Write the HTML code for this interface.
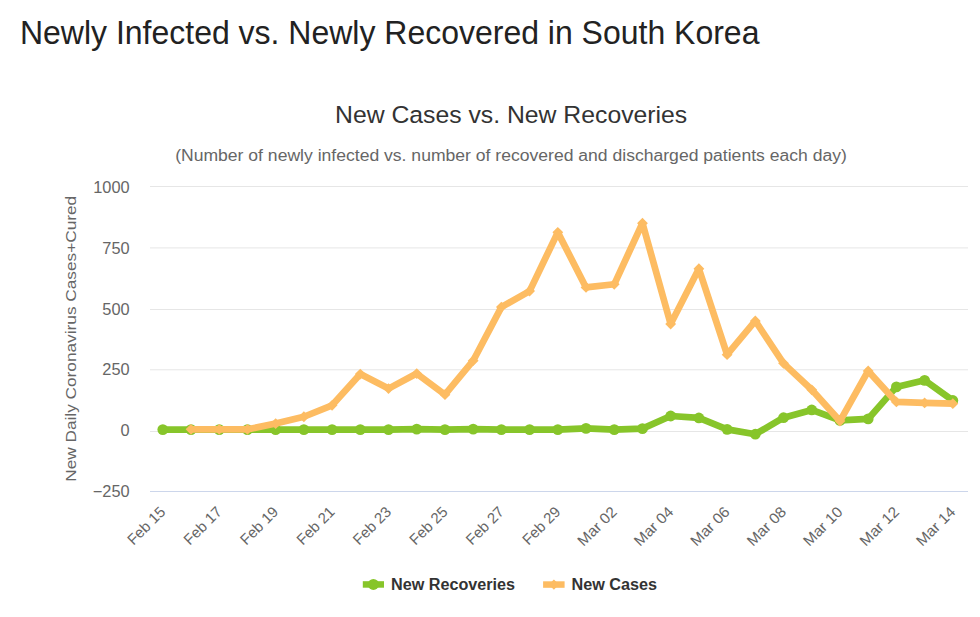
<!DOCTYPE html>
<html><head><meta charset="utf-8">
<style>
html,body{margin:0;padding:0;background:#fff;width:980px;height:617px;overflow:hidden}
svg{display:block;position:absolute;left:0;top:0}
text{font-family:"Liberation Sans",sans-serif}
.mt{font-size:32px;fill:#222}
.ct{font-size:24.5px;fill:#333}
.st{font-size:15.6px;fill:#666}
.yl{font-size:15.9px;fill:#666}
.yt{font-size:15px;fill:#666}
.xl{font-size:15px;fill:#666}
.lg{font-size:16px;font-weight:bold;fill:#333}
</style></head>
<body>
<svg width="980" height="617" viewBox="0 0 980 617">
<line x1="150" y1="186.50" x2="968" y2="186.50" stroke="#e6e6e6" stroke-width="1"/>
<line x1="150" y1="247.90" x2="968" y2="247.90" stroke="#e6e6e6" stroke-width="1"/>
<line x1="150" y1="309.50" x2="968" y2="309.50" stroke="#e6e6e6" stroke-width="1"/>
<line x1="150" y1="369.80" x2="968" y2="369.80" stroke="#e6e6e6" stroke-width="1"/>
<line x1="150" y1="431.50" x2="968" y2="431.50" stroke="#e6e6e6" stroke-width="1"/>
<line x1="150" y1="491.5" x2="968" y2="491.5" stroke="#ccd6eb" stroke-width="1"/>
<text x="129.6" y="192.90" text-anchor="end" class="yl" textLength="36.38" lengthAdjust="spacingAndGlyphs">1000</text>
<text x="129.6" y="253.75" text-anchor="end" class="yl" textLength="27.29" lengthAdjust="spacingAndGlyphs">750</text>
<text x="129.6" y="314.60" text-anchor="end" class="yl" textLength="27.29" lengthAdjust="spacingAndGlyphs">500</text>
<text x="129.6" y="375.45" text-anchor="end" class="yl" textLength="27.29" lengthAdjust="spacingAndGlyphs">250</text>
<text x="129.6" y="436.30" text-anchor="end" class="yl" textLength="9.10" lengthAdjust="spacingAndGlyphs">0</text>
<text x="129.6" y="497.15" text-anchor="end" class="yl" textLength="36.84" lengthAdjust="spacingAndGlyphs">−250</text>
<text class="yt" transform="translate(76.0 338.8) rotate(-90)" text-anchor="middle" textLength="286" lengthAdjust="spacingAndGlyphs">New Daily Coronavirus Cases+Cured</text>
<text class="xl" text-anchor="end" transform="translate(166.40 512.8) rotate(-45)">Feb 15</text>
<text class="xl" text-anchor="end" transform="translate(222.83 512.8) rotate(-45)">Feb 17</text>
<text class="xl" text-anchor="end" transform="translate(279.26 512.8) rotate(-45)">Feb 19</text>
<text class="xl" text-anchor="end" transform="translate(335.69 512.8) rotate(-45)">Feb 21</text>
<text class="xl" text-anchor="end" transform="translate(392.12 512.8) rotate(-45)">Feb 23</text>
<text class="xl" text-anchor="end" transform="translate(448.55 512.8) rotate(-45)">Feb 25</text>
<text class="xl" text-anchor="end" transform="translate(504.98 512.8) rotate(-45)">Feb 27</text>
<text class="xl" text-anchor="end" transform="translate(561.41 512.8) rotate(-45)">Feb 29</text>
<text class="xl" text-anchor="end" textLength="48.4" lengthAdjust="spacingAndGlyphs" transform="translate(617.84 512.8) rotate(-45)">Mar 02</text>
<text class="xl" text-anchor="end" textLength="48.4" lengthAdjust="spacingAndGlyphs" transform="translate(674.27 512.8) rotate(-45)">Mar 04</text>
<text class="xl" text-anchor="end" textLength="48.4" lengthAdjust="spacingAndGlyphs" transform="translate(730.70 512.8) rotate(-45)">Mar 06</text>
<text class="xl" text-anchor="end" textLength="48.4" lengthAdjust="spacingAndGlyphs" transform="translate(787.13 512.8) rotate(-45)">Mar 08</text>
<text class="xl" text-anchor="end" textLength="48.4" lengthAdjust="spacingAndGlyphs" transform="translate(843.56 512.8) rotate(-45)">Mar 10</text>
<text class="xl" text-anchor="end" textLength="48.4" lengthAdjust="spacingAndGlyphs" transform="translate(899.99 512.8) rotate(-45)">Mar 12</text>
<text class="xl" text-anchor="end" textLength="48.4" lengthAdjust="spacingAndGlyphs" transform="translate(956.42 512.8) rotate(-45)">Mar 14</text>
<path d="M162.80 429.60 L191.02 429.60 L219.23 429.60 L247.44 429.60 L275.66 429.60 L303.88 429.60 L332.09 429.60 L360.31 429.60 L388.52 429.60 L416.74 429.11 L444.95 429.60 L473.17 429.11 L501.38 429.60 L529.60 429.60 L557.81 429.60 L586.03 428.39 L614.24 429.60 L642.45 428.63 L670.67 416.01 L698.88 417.96 L727.10 429.36 L755.32 434.21 L783.53 417.71 L811.75 409.95 L839.96 420.38 L868.17 418.93 L896.39 386.90 L924.61 380.35 L952.82 400.49" fill="none" stroke="#87c52a" stroke-width="6.7" stroke-linejoin="round" stroke-linecap="round"/>
<circle cx="162.80" cy="429.60" r="5.4" fill="#87c52a"/>
<circle cx="191.02" cy="429.60" r="5.4" fill="#87c52a"/>
<circle cx="219.23" cy="429.60" r="5.4" fill="#87c52a"/>
<circle cx="247.44" cy="429.60" r="5.4" fill="#87c52a"/>
<circle cx="275.66" cy="429.60" r="5.4" fill="#87c52a"/>
<circle cx="303.88" cy="429.60" r="5.4" fill="#87c52a"/>
<circle cx="332.09" cy="429.60" r="5.4" fill="#87c52a"/>
<circle cx="360.31" cy="429.60" r="5.4" fill="#87c52a"/>
<circle cx="388.52" cy="429.60" r="5.4" fill="#87c52a"/>
<circle cx="416.74" cy="429.11" r="5.4" fill="#87c52a"/>
<circle cx="444.95" cy="429.60" r="5.4" fill="#87c52a"/>
<circle cx="473.17" cy="429.11" r="5.4" fill="#87c52a"/>
<circle cx="501.38" cy="429.60" r="5.4" fill="#87c52a"/>
<circle cx="529.60" cy="429.60" r="5.4" fill="#87c52a"/>
<circle cx="557.81" cy="429.60" r="5.4" fill="#87c52a"/>
<circle cx="586.03" cy="428.39" r="5.4" fill="#87c52a"/>
<circle cx="614.24" cy="429.60" r="5.4" fill="#87c52a"/>
<circle cx="642.45" cy="428.63" r="5.4" fill="#87c52a"/>
<circle cx="670.67" cy="416.01" r="5.4" fill="#87c52a"/>
<circle cx="698.88" cy="417.96" r="5.4" fill="#87c52a"/>
<circle cx="727.10" cy="429.36" r="5.4" fill="#87c52a"/>
<circle cx="755.32" cy="434.21" r="5.4" fill="#87c52a"/>
<circle cx="783.53" cy="417.71" r="5.4" fill="#87c52a"/>
<circle cx="811.75" cy="409.95" r="5.4" fill="#87c52a"/>
<circle cx="839.96" cy="420.38" r="5.4" fill="#87c52a"/>
<circle cx="868.17" cy="418.93" r="5.4" fill="#87c52a"/>
<circle cx="896.39" cy="386.90" r="5.4" fill="#87c52a"/>
<circle cx="924.61" cy="380.35" r="5.4" fill="#87c52a"/>
<circle cx="952.82" cy="400.49" r="5.4" fill="#87c52a"/>
<path d="M191.02 429.36 L219.23 429.36 L247.44 429.36 L275.66 423.54 L303.88 416.74 L332.09 405.34 L360.31 374.04 L388.52 388.60 L416.74 373.56 L444.95 394.67 L473.17 360.70 L501.38 307.09 L529.60 291.08 L557.81 232.37 L586.03 287.44 L614.24 284.28 L642.45 223.15 L670.67 324.07 L698.88 268.76 L727.10 354.64 L755.32 320.92 L783.53 363.37 L811.75 389.81 L839.96 421.11 L868.17 370.89 L896.39 401.94 L924.61 402.91 L952.82 403.64" fill="none" stroke="#fdbc62" stroke-width="6.7" stroke-linejoin="round" stroke-linecap="round"/>
<path d="M191.02 423.96 L196.42 429.36 L191.02 434.76 L185.62 429.36Z" fill="#fdbc62"/>
<path d="M219.23 423.96 L224.63 429.36 L219.23 434.76 L213.83 429.36Z" fill="#fdbc62"/>
<path d="M247.44 423.96 L252.84 429.36 L247.44 434.76 L242.04 429.36Z" fill="#fdbc62"/>
<path d="M275.66 418.14 L281.06 423.54 L275.66 428.94 L270.26 423.54Z" fill="#fdbc62"/>
<path d="M303.88 411.34 L309.27 416.74 L303.88 422.14 L298.48 416.74Z" fill="#fdbc62"/>
<path d="M332.09 399.94 L337.49 405.34 L332.09 410.74 L326.69 405.34Z" fill="#fdbc62"/>
<path d="M360.31 368.64 L365.70 374.04 L360.31 379.44 L354.91 374.04Z" fill="#fdbc62"/>
<path d="M388.52 383.20 L393.92 388.60 L388.52 394.00 L383.12 388.60Z" fill="#fdbc62"/>
<path d="M416.74 368.16 L422.13 373.56 L416.74 378.96 L411.34 373.56Z" fill="#fdbc62"/>
<path d="M444.95 389.27 L450.35 394.67 L444.95 400.07 L439.55 394.67Z" fill="#fdbc62"/>
<path d="M473.17 355.30 L478.56 360.70 L473.17 366.10 L467.77 360.70Z" fill="#fdbc62"/>
<path d="M501.38 301.69 L506.78 307.09 L501.38 312.49 L495.98 307.09Z" fill="#fdbc62"/>
<path d="M529.60 285.68 L535.00 291.08 L529.60 296.48 L524.20 291.08Z" fill="#fdbc62"/>
<path d="M557.81 226.97 L563.21 232.37 L557.81 237.77 L552.41 232.37Z" fill="#fdbc62"/>
<path d="M586.03 282.04 L591.43 287.44 L586.03 292.84 L580.63 287.44Z" fill="#fdbc62"/>
<path d="M614.24 278.88 L619.64 284.28 L614.24 289.68 L608.84 284.28Z" fill="#fdbc62"/>
<path d="M642.45 217.75 L647.85 223.15 L642.45 228.55 L637.05 223.15Z" fill="#fdbc62"/>
<path d="M670.67 318.67 L676.07 324.07 L670.67 329.47 L665.27 324.07Z" fill="#fdbc62"/>
<path d="M698.88 263.36 L704.28 268.76 L698.88 274.16 L693.49 268.76Z" fill="#fdbc62"/>
<path d="M727.10 349.24 L732.50 354.64 L727.10 360.04 L721.70 354.64Z" fill="#fdbc62"/>
<path d="M755.32 315.52 L760.72 320.92 L755.32 326.32 L749.92 320.92Z" fill="#fdbc62"/>
<path d="M783.53 357.97 L788.93 363.37 L783.53 368.77 L778.13 363.37Z" fill="#fdbc62"/>
<path d="M811.75 384.41 L817.15 389.81 L811.75 395.21 L806.35 389.81Z" fill="#fdbc62"/>
<path d="M839.96 415.71 L845.36 421.11 L839.96 426.51 L834.56 421.11Z" fill="#fdbc62"/>
<path d="M868.17 365.49 L873.57 370.89 L868.17 376.29 L862.77 370.89Z" fill="#fdbc62"/>
<path d="M896.39 396.54 L901.79 401.94 L896.39 407.34 L890.99 401.94Z" fill="#fdbc62"/>
<path d="M924.61 397.51 L930.00 402.91 L924.61 408.31 L919.21 402.91Z" fill="#fdbc62"/>
<path d="M952.82 398.24 L958.22 403.64 L952.82 409.04 L947.42 403.64Z" fill="#fdbc62"/>
<rect x="362.8" y="581.2" width="21.2" height="6.5" fill="#87c52a"/>
<circle cx="373.4" cy="584.4" r="5.5" fill="#87c52a"/>
<text class="lg" x="391" y="589.7" textLength="124.1" lengthAdjust="spacingAndGlyphs">New Recoveries</text>
<rect x="543.1" y="581.3" width="21.5" height="6.5" fill="#fdbc62"/>
<path d="M553.9 579.4 L559.0 584.6 L553.9 589.8 L548.8 584.6Z" fill="#fdbc62"/>
<text class="lg" x="571.5" y="589.7" textLength="85.6" lengthAdjust="spacingAndGlyphs">New Cases</text>
<text class="ct" x="511.1" y="122.7" text-anchor="middle" textLength="352.2" lengthAdjust="spacingAndGlyphs">New Cases vs. New Recoveries</text>
<text class="st" x="511" y="160.9" text-anchor="middle" textLength="671.7" lengthAdjust="spacingAndGlyphs">(Number of newly infected vs. number of recovered and discharged patients each day)</text>
<text class="mt" x="20" y="0" transform="translate(0 44.4) scale(1 1.04)">Newly Infected vs. Newly Recovered in South Korea</text>
</svg>
</body></html>
